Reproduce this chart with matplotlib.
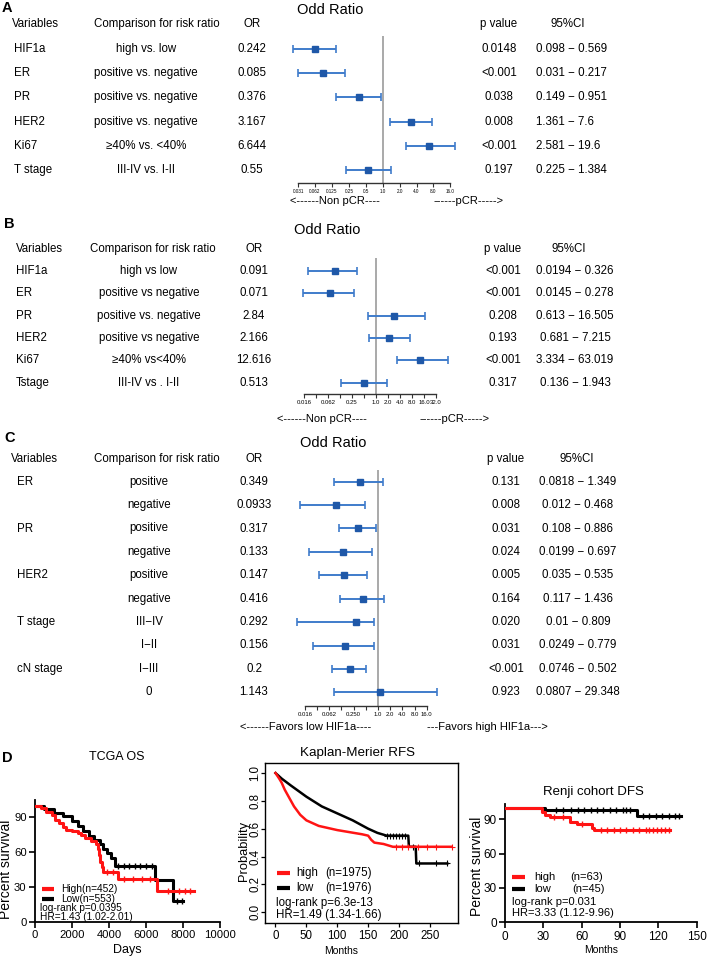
import numpy as np
import matplotlib
matplotlib.use('Agg')
import matplotlib.pyplot as plt
from matplotlib import transforms
from matplotlib.lines import Line2D

plt.rcParams['font.family'] = ['Liberation Sans', 'DejaVu Sans']

# ---------------- DATA ----------------
# Panel A
a_vars = ['HIF1a', 'ER', 'PR', 'HER2', 'Ki67', 'T stage']
a_comp = ['high vs. low', 'positive vs. negative', 'positive vs. negative',
          'positive vs. negative', '\u226540% vs. <40%', 'III-IV vs. I-II']
a_or_txt = ['0.242', '0.085', '0.376', '3.167', '6.644', '0.55']
a_p_txt = ['0.0148', '<0.001', '0.038', '0.008', '<0.001', '0.197']
a_ci_txt = ['0.098 \u2212 0.569', '0.031 \u2212 0.217', '0.149 \u2212 0.951',
            '1.361 \u2212 7.6', '2.581 \u2212 19.6', '0.225 \u2212 1.384']
a_est = [0.062, 0.085, 0.376, 3.167, 6.644, 0.55]     # plotted positions
a_lo = [0.025, 0.031, 0.149, 1.361, 2.581, 0.225]
a_hi = [0.146, 0.217, 0.951, 7.6, 19.6, 1.384]
a_ticklabels = ['0.031', '0.062', '0.125', '0.25', '0.5', '1.0', '2.0', '4.0', '8.0', '16.0']

# Panel B
b_vars = ['HIF1a', 'ER', 'PR', 'HER2', 'Ki67', 'Tstage']
b_comp = ['high vs low', 'positive vs negative', 'positive vs. negative',
          'positive vs negative', '\u226540% vs<40%', 'III-IV vs . I-II']
b_or_txt = ['0.091', '0.071', '2.84', '2.166', '12.616', '0.513']
b_p_txt = ['<0.001', '<0.001', '0.208', '0.193', '<0.001', '0.317']
b_ci_txt = ['0.0194 \u2212 0.326', '0.0145 \u2212 0.278', '0.613 \u2212 16.505',
            '0.681 \u2212 7.215', '3.334 \u2212 63.019', '0.136 \u2212 1.943']
b_est = [0.091, 0.071, 2.84, 2.166, 12.616, 0.513]
b_lo = [0.0194, 0.0145, 0.613, 0.681, 3.334, 0.136]
b_hi = [0.326, 0.278, 16.505, 7.215, 63.019, 1.943]
b_ticklabels = ['0.016', '', '0.062', '', '0.25', '', '1.0', '2.0', '4.0', '8.0', '16.0', '32.0']

# Panel C
c_vars = ['ER', '', 'PR', '', 'HER2', '', 'T stage', '', 'cN stage', '']
c_comp = ['positive', 'negative', 'positive', 'negative', 'positive', 'negative',
          'III\u2212IV', 'I\u2212II', 'I\u2212III', '0']
c_or_txt = ['0.349', '0.0933', '0.317', '0.133', '0.147', '0.416', '0.292', '0.156', '0.2', '1.143']
c_p_txt = ['0.131', '0.008', '0.031', '0.024', '0.005', '0.164', '0.020', '0.031', '<0.001', '0.923']
c_ci_txt = ['0.0818 \u2212 1.349', '0.012 \u2212 0.468', '0.108 \u2212 0.886', '0.0199 \u2212 0.697',
            '0.035 \u2212 0.535', '0.117 \u2212 1.436', '0.01 \u2212 0.809', '0.0249 \u2212 0.779',
            '0.0746 \u2212 0.502', '0.0807 \u2212 29.348']
c_est = [0.349, 0.0933, 0.317, 0.133, 0.147, 0.416, 0.292, 0.156, 0.2, 1.143]
c_lo = [0.0818, 0.012, 0.108, 0.0199, 0.035, 0.117, 0.01, 0.0249, 0.0746, 0.0807]
c_hi = [1.349, 0.468, 0.886, 0.697, 0.535, 1.436, 0.809, 0.779, 0.502, 29.348]
c_ticklabels = ['0.016', '', '0.062', '', '0.250', '', '1.0', '2.0', '4.0', '8.0', '16.0']

# Panel D1: TCGA OS (days, percent survival)
tcga_high_t = [0, 300, 600, 900, 1100, 1300, 1500, 1700, 2000, 2300, 2500, 2700, 3000,
               3300, 3400, 3450, 3500, 3600, 3700, 4500, 6600, 8600]
tcga_high_s = [100, 98, 95, 92, 88, 85, 82, 79, 78, 77, 75, 72, 70, 67, 63, 58, 52, 47,
               43, 37, 27, 27]
tcga_low_t = [0, 500, 1000, 1500, 2000, 2300, 2600, 2900, 3200, 3500, 3700, 3900, 4100,
              4300, 6500, 7450, 8000]
tcga_low_s = [100, 97, 94, 91, 87, 83, 78, 74, 71, 67, 63, 59, 55, 48, 36, 18, 18]
tcga_high_cens = [3900, 4200, 4800, 5300, 5800, 6200, 7200, 7800, 8100, 8400]
tcga_low_cens = [4500, 4800, 5100, 5400, 5700, 6000, 6300, 7700, 7950]

# Panel D2: Kaplan-Meier RFS (months, probability)
rfs_high_t = [0, 3, 6, 10, 15, 20, 25, 30, 35, 40, 50, 60, 70, 80, 100, 120, 140, 150,
              155, 160, 175, 190, 285]
rfs_high_s = [1.0, 0.98, 0.96, 0.93, 0.88, 0.84, 0.80, 0.76, 0.73, 0.70, 0.66, 0.64, 0.62,
              0.61, 0.59, 0.575, 0.56, 0.55, 0.52, 0.50, 0.49, 0.47, 0.47]
rfs_low_t = [0, 10, 25, 50, 75, 100, 125, 150, 165, 180, 215, 216, 227, 228, 278]
rfs_low_s = [1.0, 0.96, 0.91, 0.83, 0.76, 0.71, 0.66, 0.60, 0.57, 0.55, 0.55, 0.47, 0.47,
             0.35, 0.35]
rfs_high_cens = [195, 205, 215, 230, 245, 260, 285]
rfs_low_cens = [180, 185, 190, 195, 200, 205, 210, 222, 232, 260, 278]

# Panel D3: Renji cohort DFS (months, percent survival)
renji_high_t = [0, 27, 29, 31, 35, 42, 48, 51, 56, 64, 68, 70, 129]
renji_high_s = [100, 100, 96.4, 94, 92, 91.5, 91.5, 87.7, 85.7, 85.7, 81.9, 80.4, 80.4]
renji_low_t = [0, 31, 103, 137.5]
renji_low_s = [100, 97.9, 92.9, 92.9]
renji_high_cens = [38, 45, 60, 75, 80, 85, 90, 95, 100, 105, 110, 113, 116, 119, 122, 125, 128]
renji_low_cens = [40, 45, 52, 57, 62, 67, 72, 77, 82, 87, 92, 95, 98, 108, 113, 118, 123, 128, 133, 136]

# ---------------- FIGURE ----------------
W, H = 708, 958
fig = plt.figure(figsize=(W / 100, H / 100), dpi=100)


def fx(x):
    return x / W


def fy(y):
    return 1 - y / H


def add_ax(left, top, right, bottom):
    return fig.add_axes([fx(left), fy(bottom), (right - left) / W, (bottom - top) / H])


def ftext(x, y, s, **kw):
    kw.setdefault('fontsize', 8.3)
    kw.setdefault('va', 'center')
    return fig.text(fx(x), fy(y), s, **kw)


MCOL = '#1f58a8'
ECOL = '#3f7ccb'


def forest(L):
    ax = add_ax(L['left'], L['top'], L['right'], L['bottom'])
    one, ppu = L['one_px'], L['ppu']
    ax.set_xscale('log', base=2)
    ax.set_xlim(2 ** ((L['left'] - one) / ppu), 2 ** ((L['right'] - one) / ppu))
    r0, dy = L['row0'], L['dy']
    ax.set_ylim((L['bottom'] - r0) / dy, (L['top'] - r0) / dy)
    est = np.array(L['est'])
    lo = np.array(L['lo'])
    hi = np.array(L['hi'])
    rows = np.arange(len(est))
    ax.axvline(1.0, color='#a3a3a3', lw=1.3, zorder=1)
    ax.errorbar(est, rows, xerr=[est - lo, hi - est], fmt='s', ms=4.6,
                mfc=MCOL, mec=MCOL, ecolor=ECOL, elinewidth=1.4, capsize=3.0,
                capthick=1.2, zorder=3, clip_on=False)
    for s in ['top', 'left', 'right']:
        ax.spines[s].set_visible(False)
    ticks = [2.0 ** k for k in range(L['kmin'], L['kmin'] + len(L['ticklabels']))]
    ax.spines['bottom'].set_bounds(ticks[0], ticks[-1])
    ax.spines['bottom'].set_linewidth(1.0)
    ax.spines['bottom'].set_color('#333333')
    ax.set_xticks(ticks)
    ax.set_xticklabels(L['ticklabels'])
    ax.xaxis.set_minor_locator(matplotlib.ticker.NullLocator())
    ax.tick_params(axis='x', direction='out', length=3, width=0.8, color='#333333',
                   labelsize=L['tickfs'], pad=1.5)
    ax.set_yticks([])
    ax.patch.set_alpha(0)

    trans = transforms.blended_transform_factory(fig.transFigure, ax.transData)
    cx = L['cols']
    for i in rows:
        fig.text(fx(cx['var']), i, L['vars'][i], transform=trans, fontsize=8.3, va='center', ha='left')
        fig.text(fx(cx['comp']), i, L['comp'][i], transform=trans, fontsize=8.3, va='center', ha='center')
        fig.text(fx(cx['or']), i, L['or_txt'][i], transform=trans, fontsize=8.3, va='center', ha='center')
        fig.text(fx(cx['p']), i, L['p_txt'][i], transform=trans, fontsize=8.3, va='center', ha='center')
        fig.text(fx(cx['ci']), i, L['ci_txt'][i], transform=trans, fontsize=8.3, va='center',
                 ha=L['ci_ha'])
    # headers
    hy = L['header_y']
    ftext(cx['var_h'], hy, 'Variables', ha='left')
    ftext(cx['comp_h'], hy, 'Comparison for risk ratio', ha='center')
    ftext(cx['or'], hy, 'OR', ha='center')
    ftext(cx['p'], hy, 'p value', ha='center')
    ftext(cx['ci_h'], hy, '95%CI', ha='center')
    ftext(L['title'][0], L['title'][1], 'Odd Ratio', ha='center', fontsize=10.5)
    ftext(L['letter'][0], L['letter'][1], L['letter'][2], ha='left', fontsize=10.5, fontweight='bold')
    for (x, y, s) in L['notes']:
        ftext(x, y, s, ha='center', fontsize=8)
    return ax


forest(dict(left=260, right=480, top=36, bottom=183, one_px=382.7, ppu=16.9,
            row0=49, dy=24.2, kmin=-5, ticklabels=a_ticklabels, tickfs=3.3,
            est=a_est, lo=a_lo, hi=a_hi, vars=a_vars, comp=a_comp, or_txt=a_or_txt,
            p_txt=a_p_txt, ci_txt=a_ci_txt, ci_ha='left',
            cols={'var': 14, 'var_h': 12, 'comp': 146, 'comp_h': 157, 'or': 252, 'p': 499,
                  'ci': 536, 'ci_h': 568},
            header_y=24, title=(330, 10), letter=(2, 8, 'A'),
            notes=[(335, 201, '<------Non pCR----'), (468, 201, '------pCR----->')]))

forest(dict(left=280, right=470, top=258, bottom=394, one_px=376, ppu=12.0,
            row0=271, dy=22.34, kmin=-6, ticklabels=b_ticklabels, tickfs=4.3,
            est=b_est, lo=b_lo, hi=b_hi, vars=b_vars, comp=b_comp, or_txt=b_or_txt,
            p_txt=b_p_txt, ci_txt=b_ci_txt, ci_ha='center',
            cols={'var': 16, 'var_h': 16, 'comp': 149, 'comp_h': 153, 'or': 254, 'p': 503,
                  'ci': 575, 'ci_h': 569},
            header_y=249, title=(327, 230), letter=(4, 224, 'B'),
            notes=[(322, 419, '<------Non pCR----'), (455, 419, '------pCR----->')]))

forest(dict(left=280, right=470, top=470, bottom=706, one_px=378, ppu=12.17,
            row0=481.7, dy=23.4, kmin=-6, ticklabels=c_ticklabels, tickfs=4.3,
            est=c_est, lo=c_lo, hi=c_hi, vars=c_vars, comp=c_comp, or_txt=c_or_txt,
            p_txt=c_p_txt, ci_txt=c_ci_txt, ci_ha='center',
            cols={'var': 17, 'var_h': 11, 'comp': 149, 'comp_h': 157, 'or': 254, 'p': 506,
                  'ci': 578, 'ci_h': 577},
            header_y=459, title=(333, 443), letter=(4, 438, 'C'),
            notes=[(306, 727, '<------Favors low HIF1a----'), (487, 727, '---Favors high HIF1a--->')]))


# ---------------- Panel D ----------------
RED = '#ff1414'


def step_val(t, s, c):
    t = np.asarray(t)
    s = np.asarray(s)
    idx = np.searchsorted(t, np.asarray(c), side='right') - 1
    return s[idx]


def legend_line(x1, x2, y, color, lw=3):
    fig.add_artist(Line2D([fx(x1), fx(x2)], [fy(y), fy(y)], transform=fig.transFigure,
                          color=color, lw=lw, solid_capstyle='butt'))


def graphpad_axes(ax):
    for s in ['top', 'right']:
        ax.spines[s].set_visible(False)
    for s in ['left', 'bottom']:
        ax.spines[s].set_linewidth(1.3)
    ax.tick_params(direction='out', length=4, width=1.2, labelsize=8.5, pad=2)


# D1
ax1 = add_ax(35, 800, 220, 922)
ax1.step(tcga_high_t, tcga_high_s, where='post', color=RED, lw=2.2, zorder=3)
ax1.step(tcga_low_t, tcga_low_s, where='post', color='black', lw=2.2, zorder=2)
ax1.plot(tcga_high_cens, step_val(tcga_high_t, tcga_high_s, tcga_high_cens), ls='none',
         marker='|', ms=4, mew=1, color=RED, zorder=3)
ax1.plot(tcga_low_cens, step_val(tcga_low_t, tcga_low_s, tcga_low_cens), ls='none',
         marker='|', ms=4, mew=1, color='black', zorder=2)
ax1.set_xlim(0, 10000)
ax1.set_ylim(0, 105)
ax1.set_xticks([0, 2000, 4000, 6000, 8000, 10000])
ax1.set_yticks([0, 30, 60, 90])
graphpad_axes(ax1)
ax1.tick_params(labelsize=8.1)
ftext(2, 758, 'D', ha='left', fontsize=10.5, fontweight='bold')
ftext(117, 757, 'TCGA OS', ha='center', fontsize=9)
ftext(127, 950, 'Days', ha='center', fontsize=9)
ftext(6, 869, 'Percent survival', ha='center', rotation=90, fontsize=10)
legend_line(42, 54, 889, RED)
legend_line(42, 54, 899, 'black')
ftext(61, 889, 'High(n=452)', ha='left', fontsize=7.3)
ftext(61, 899, 'Low(n=553)', ha='left', fontsize=7.3)
ftext(40, 908, 'log-rank p=0.0395', ha='left', fontsize=7.3)
ftext(40, 917, 'HR=1.43 (1.02-2.01)', ha='left', fontsize=7.3)

# D2
ax2 = add_ax(265, 763.3, 457.7, 923.3)
ax2.plot(rfs_high_t, rfs_high_s, color=RED, lw=1.8, zorder=3)
ax2.plot(rfs_low_t, rfs_low_s, color='black', lw=1.8, zorder=2)
ax2.plot(rfs_high_cens, step_val(rfs_high_t, rfs_high_s, rfs_high_cens), ls='none',
         marker='+', ms=4, mew=0.8, color=RED, zorder=3)
ax2.plot(rfs_low_cens, step_val(rfs_low_t, rfs_low_s, rfs_low_cens), ls='none',
         marker='+', ms=4, mew=0.8, color='black', zorder=2)
ax2.set_xlim(-17, 295)
ax2.set_ylim(-0.08, 1.07)
ax2.set_xticks([0, 50, 100, 150, 200, 250])
ax2.set_yticks([0, 0.2, 0.4, 0.6, 0.8, 1.0])
ax2.set_yticklabels(['0.0', '0.2', '0.4', '0.6', '0.8', '1.0'], rotation=90, va='center')
for s in ax2.spines.values():
    s.set_linewidth(1.0)
ax2.tick_params(direction='out', length=3, width=0.9, labelsize=8.3, pad=2)
ax2.tick_params(axis='y', pad=-0.5)
ftext(357, 753, 'Kaplan-Merier RFS', ha='center', fontsize=9.6)
ftext(341, 951, 'Months', ha='center', fontsize=7.5)
ftext(244, 851, 'Probability', ha='center', rotation=90, fontsize=9.3)
legend_line(277, 290, 872.7, RED)
legend_line(277, 290, 887.7, 'black')
ftext(296, 872.7, 'high', ha='left', fontsize=8.3)
ftext(325, 872.7, '(n=1975)', ha='left', fontsize=8.3)
ftext(296, 887.7, 'low', ha='left', fontsize=8.3)
ftext(325, 887.7, '(n=1976)', ha='left', fontsize=8.3)
ftext(276, 903.3, 'log-rank p=6.3e-13', ha='left', fontsize=8.3)
ftext(276, 915, 'HR=1.49 (1.34-1.66)', ha='left', fontsize=8.3)

# D3
ax3 = add_ax(505, 804.2, 696.7, 922.3)
ax3.step(renji_high_t, renji_high_s, where='post', color=RED, lw=2.2, zorder=3)
ax3.step(renji_low_t, renji_low_s, where='post', color='black', lw=2.2, zorder=2)
ax3.plot(renji_high_cens, step_val(renji_high_t, renji_high_s, renji_high_cens), ls='none',
         marker='|', ms=4, mew=1, color=RED, zorder=3)
ax3.plot(renji_low_cens, step_val(renji_low_t, renji_low_s, renji_low_cens), ls='none',
         marker='|', ms=4, mew=1, color='black', zorder=2)
ax3.set_xlim(0, 150)
ax3.set_ylim(0, 103)
ax3.set_xticks([0, 30, 60, 90, 120, 150])
ax3.set_yticks([0, 30, 60, 90])
graphpad_axes(ax3)
ftext(593, 791.7, 'Renji cohort DFS', ha='center', fontsize=9.5)
ftext(601, 950, 'Months', ha='center', fontsize=7.5)
ftext(477, 866, 'Percent survival', ha='center', rotation=90, fontsize=10)
legend_line(512, 525, 876.7, RED)
legend_line(512, 525, 889, 'black')
ftext(534, 876.7, 'high', ha='left', fontsize=8)
ftext(570, 876.7, '(n=63)', ha='left', fontsize=8)
ftext(534, 889, 'low', ha='left', fontsize=8)
ftext(572, 889, '(n=45)', ha='left', fontsize=8)
ftext(512, 902.3, 'log-rank p=0.031', ha='left', fontsize=8)
ftext(512, 913.3, 'HR=3.33 (1.12-9.96)', ha='left', fontsize=8)

fig.savefig('out.png', dpi=100)
